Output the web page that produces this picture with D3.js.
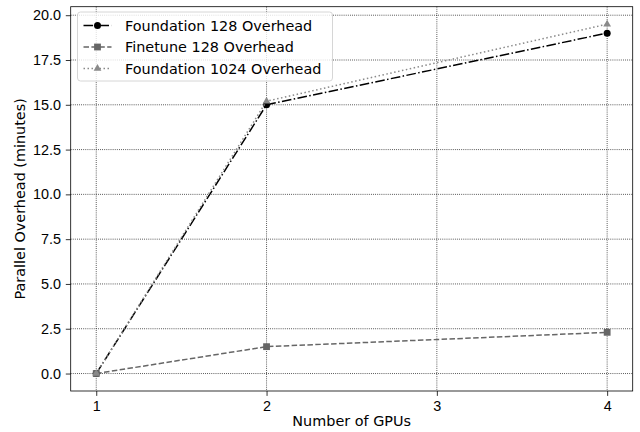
<!DOCTYPE html>
<html>
<head>
<meta charset="utf-8">
<script src="https://cdn.jsdelivr.net/npm/d3@7"></script>
<style>
  body { margin: 0; background: #fff; }
  svg { font-family: "DejaVu Sans", sans-serif; }
  .axis text { font-size: 14.4px; fill: #000; }
  .axis path, .axis line { stroke: #000; stroke-width: 0.8px; }
  .grid line { stroke: #000; stroke-width: 0.8px; stroke-dasharray: 0.8,1.3; }
</style>
</head>
<body>
<svg width="640" height="432"></svg>
<script>
var gpus = [1, 2, 4];
var foundation128 = [0, 15.0, 19.0];
var finetune128 = [0, 1.5, 2.3];
var foundation1024 = [0, 15.2, 19.5];
var xTicks = [1, 2, 3, 4];
var yTicks = [0, 2.5, 5, 7.5, 10, 12.5, 15, 17.5, 20];

var series = [
  {name: "Foundation 128 Overhead", values: foundation128, color: "#000", dash: "9.6,2.4,1.5,2.4", marker: "circle"},
  {name: "Finetune 128 Overhead", values: finetune128, color: "#666", dash: "5.5,2.4", marker: "square"},
  {name: "Foundation 1024 Overhead", values: foundation1024, color: "#8a8a8a", dash: "1.5,2.5", marker: "triangle"}
];

var svg = d3.select("svg"),
    margin = {top: 6.7, right: 7.3, bottom: 41, left: 70.7},
    width = +svg.attr("width") - margin.left - margin.right,
    height = +svg.attr("height") - margin.top - margin.bottom,
    g = svg.append("g").attr("transform", "translate(" + margin.left + "," + margin.top + ")");

var x = d3.scaleLinear().domain([0.85, 4.15]).range([0, width]);
var y = d3.scaleLinear().domain([-0.975, 20.475]).range([height, 0]);

// grid
g.append("g").attr("class", "grid")
  .selectAll("line.v").data(xTicks).enter().append("line")
    .attr("x1", d => x(d)).attr("x2", d => x(d))
    .attr("y1", 0).attr("y2", height);
g.append("g").attr("class", "grid")
  .selectAll("line.h").data(yTicks).enter().append("line")
    .attr("x1", 0).attr("x2", width)
    .attr("y1", d => y(d)).attr("y2", d => y(d));

g.append("g")
    .attr("class", "axis")
    .attr("transform", "translate(0," + height + ")")
    .call(d3.axisBottom(x).tickValues(xTicks).tickFormat(d3.format("d")).tickSizeOuter(0).tickSize(4.9).tickPadding(4.9))
    .call(a => a.select(".domain").remove());

g.append("g")
    .attr("class", "axis")
    .call(d3.axisLeft(y).tickValues(yTicks).tickFormat(d3.format(".1f")).tickSizeOuter(0).tickSize(4.9).tickPadding(4.9))
    .call(a => a.select(".domain").remove());

g.append("rect")
    .attr("width", width).attr("height", height)
    .attr("fill", "none").attr("stroke", "#000").attr("stroke-width", 0.8);

var line = d3.line()
    .x(function(d, i) { return x(gpus[i]); })
    .y(function(d) { return y(d); });

function drawMarker(sel, type, color) {
  if (type === "circle") {
    sel.append("circle").attr("r", 3.5).attr("fill", color);
  } else if (type === "square") {
    sel.append("rect").attr("x", -3.4).attr("y", -3.4).attr("width", 6.8).attr("height", 6.8).attr("fill", color);
  } else {
    sel.append("path").attr("d", d3.symbol().type(d3.symbolTriangle).size(26)).attr("fill", color);
  }
}

series.forEach(function(s) {
  g.append("path")
      .datum(s.values)
      .attr("fill", "none")
      .attr("stroke", s.color)
      .attr("stroke-width", 1.5)
      .attr("stroke-dasharray", s.dash)
      .attr("d", line);
  s.values.forEach(function(v, i) {
    var m = g.append("g").attr("transform", "translate(" + x(gpus[i]) + "," + y(v) + ")");
    drawMarker(m, s.marker, s.color);
  });
});

// axis labels
svg.append("text")
    .attr("x", margin.left + width / 2).attr("y", 426)
    .attr("text-anchor", "middle").attr("font-size", "14.4px")
    .text("Number of GPUs");
svg.append("text")
    .attr("transform", "translate(25," + (margin.top + height / 2) + ") rotate(-90)")
    .attr("text-anchor", "middle").attr("font-size", "14.4px")
    .text("Parallel Overhead (minutes)");

// legend
var legend = svg.append("g").attr("transform", "translate(77.5,12)");
legend.append("rect")
    .attr("width", 255).attr("height", 69).attr("rx", 3)
    .attr("fill", "#fff").attr("fill-opacity", 0.8)
    .attr("stroke", "#ccc").attr("stroke-width", 0.8);
series.forEach(function(s, i) {
  var row = legend.append("g").attr("transform", "translate(0," + (13.5 + i * 21.5) + ")");
  row.append("line")
      .attr("x1", 6).attr("x2", 34).attr("y1", 0).attr("y2", 0)
      .attr("stroke", s.color).attr("stroke-width", 1.5)
      .attr("stroke-dasharray", s.dash);
  drawMarker(row.append("g").attr("transform", "translate(20,0)"), s.marker, s.color);
  row.append("text")
      .attr("x", 47.5).attr("dy", "0.35em")
      .attr("font-size", "14.4px")
      .text(s.name);
});
</script>
</body>
</html>
